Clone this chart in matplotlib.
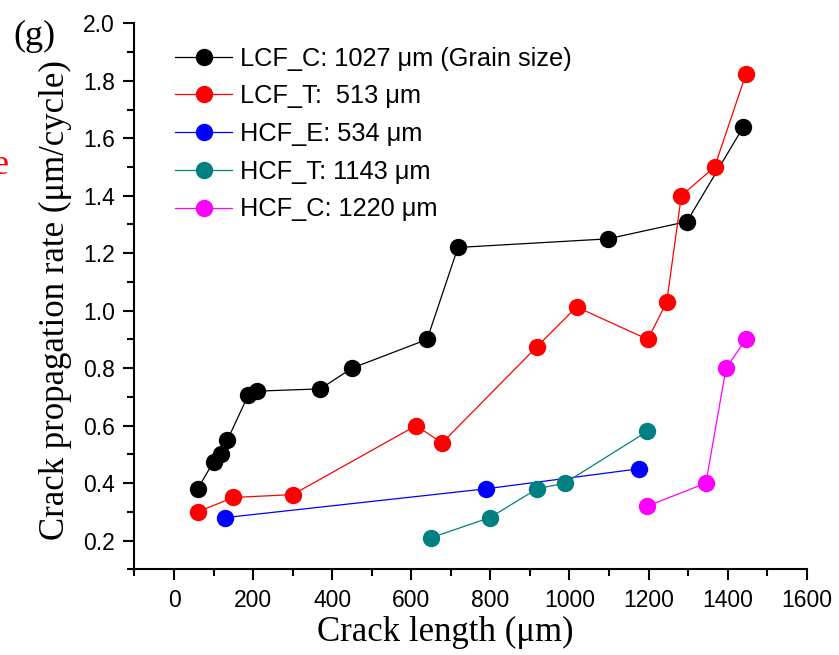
import matplotlib
matplotlib.use("Agg")
import matplotlib.pyplot as plt
from matplotlib.ticker import MultipleLocator

# Crack length (um) and crack propagation rate (um/cycle) per specimen
lcf_c_x = [60, 100, 120, 135, 188, 210, 370, 450, 640, 718, 1097, 1297, 1440]
lcf_c_y = [0.38, 0.475, 0.50, 0.55, 0.707, 0.72, 0.728, 0.80, 0.90, 1.22, 1.25, 1.31, 1.64]

lcf_t_x = [60, 150, 300, 612, 678, 918, 1018, 1198, 1246, 1283, 1367, 1446]
lcf_t_y = [0.30, 0.35, 0.36, 0.60, 0.54, 0.875, 1.013, 0.90, 1.03, 1.40, 1.50, 1.822]

hcf_e_x = [130, 788, 1177]
hcf_e_y = [0.28, 0.38, 0.45]

hcf_t_x = [650, 799, 918, 988, 1197]
hcf_t_y = [0.21, 0.28, 0.38, 0.40, 0.58]

hcf_c_x = [1197, 1345, 1396, 1446]
hcf_c_y = [0.32, 0.40, 0.80, 0.90]

series = [
    (lcf_c_x, lcf_c_y, "#000000", "LCF_C: 1027 \u03bcm (Grain size)"),
    (lcf_t_x, lcf_t_y, "#ff0000", "LCF_T:  513 \u03bcm"),
    (hcf_e_x, hcf_e_y, "#0000ff", "HCF_E: 534 \u03bcm"),
    (hcf_t_x, hcf_t_y, "#008080", "HCF_T: 1143 \u03bcm"),
    (hcf_c_x, hcf_c_y, "#ff00ff", "HCF_C: 1220 \u03bcm"),
]

sans = ["Liberation Sans", "DejaVu Sans"]
serif = ["Liberation Serif", "DejaVu Serif"]

fig = plt.figure(figsize=(8.39, 6.55), dpi=100)
ax = fig.add_axes([0.1603, 0.1308, 0.9615 - 0.1603, 0.9644 - 0.1308])

for xs, ys, c, lab in series:
    ax.plot(xs, ys, color=c, lw=0.9, marker="o", ms=11.5, mfc=c, mec=c,
            label=lab)

ax.set_xlim(-100, 1600)
ax.set_ylim(0.1, 2.0)
ax.xaxis.set_major_locator(MultipleLocator(200))
ax.xaxis.set_minor_locator(MultipleLocator(100))
ax.yaxis.set_major_locator(MultipleLocator(0.2))
ax.yaxis.set_minor_locator(MultipleLocator(0.1))
ax.set_xticks(range(0, 1601, 200))
ax.set_yticks([0.2, 0.4, 0.6, 0.8, 1.0, 1.2, 1.4, 1.6, 1.8, 2.0])

for s in ("top", "right"):
    ax.spines[s].set_visible(False)
for s in ("left", "bottom"):
    ax.spines[s].set_linewidth(1.5)

ax.tick_params(which="major", direction="out", length=8, width=1.5, pad=6)
ax.tick_params(which="minor", direction="out", length=5, width=1.5)
for lbl in ax.get_xticklabels() + ax.get_yticklabels():
    lbl.set_fontfamily(sans)
    lbl.set_fontsize(16.5)

ax.set_xlabel("Crack length (\u03bcm)", fontfamily=serif, fontsize=25, labelpad=4)
ax.xaxis.set_label_coords(0.462, -0.085)
ax.set_ylabel("Crack propagation rate (\u03bcm/cycle)", fontfamily=serif,
              fontsize=25, labelpad=8)
ax.yaxis.set_label_coords(-0.093, 0.494)

leg = ax.legend(loc="upper left", bbox_to_anchor=(0.045, 0.976), frameon=False,
                prop={"family": sans, "size": 18.3}, handlelength=2.25,
                handletextpad=0.3, labelspacing=0.54, borderaxespad=0)

fig.text(13 / 839, 1 - 36 / 655, "(g)", fontfamily=serif, fontsize=26,
         va="center", ha="left")
fig.text(9 / 839, 1 - 165 / 655, "e", fontfamily=serif, fontsize=26,
         color="#ff0000", va="center", ha="right")

fig.savefig("out.png", dpi=100)
